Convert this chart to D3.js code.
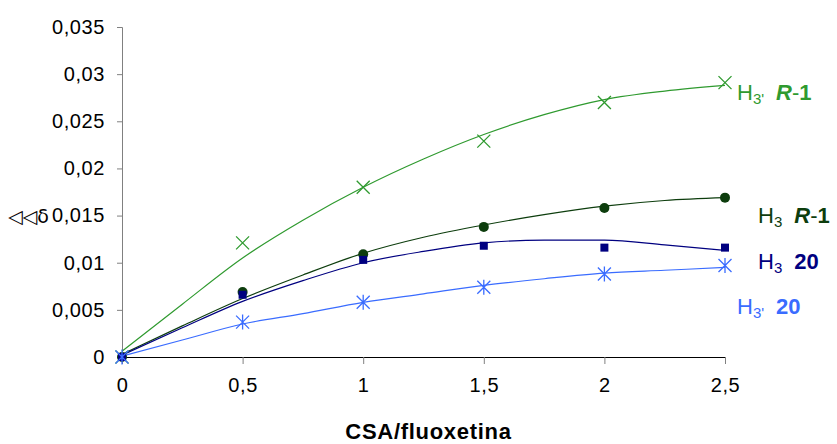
<!DOCTYPE html>
<html>
<head>
<meta charset="utf-8">
<script src="https://cdn.jsdelivr.net/npm/d3@7"></script>
<style>
  html, body { margin: 0; padding: 0; background: #fff; }
  svg { display: block; font-family: "Liberation Sans", Arial, sans-serif; }
</style>
</head>
<body>
<svg id="chart" width="837" height="444"></svg>
<script>
// Ratio CSA/fluoxetina on the x axis
const ratios = [0, 0.5, 1, 1.5, 2, 2.5];

// Measured shifts for each proton / compound
const h3pR1 = [0, 0.0121, 0.0180, 0.0229, 0.0270, 0.0291];
const h3R1  = [0, 0.0069, 0.0109, 0.0138, 0.0158, 0.0169];
const h3C20 = [0, 0.0066, 0.0103, 0.0118, 0.0116, 0.0116];
const h3pC20 = [0, 0.0037, 0.0058, 0.0074, 0.0088, 0.0097];

// Trend curves sampled along the x axis
const trendX = [0, 0.25, 0.5, 0.75, 1, 1.25, 1.5, 1.75, 2, 2.25, 2.5];
const trendH3pR1 = [0.0006, 0.0056, 0.0105, 0.0145, 0.0180, 0.0210, 0.0236, 0.0257, 0.0273, 0.0282, 0.0288];
const trendH3R1  = [0.0003, 0.0033, 0.0062, 0.0087, 0.0110, 0.0127, 0.0140, 0.0151, 0.0160, 0.0166, 0.0169];
const trendH3C20 = [0.0002, 0.0031, 0.0059, 0.0081, 0.0100, 0.0112, 0.0121, 0.0124, 0.0124, 0.0119, 0.0113];
const trendH3pC20 = [0.0001, 0.0018, 0.0035, 0.0046, 0.0058, 0.0067, 0.0076, 0.0083, 0.0089, 0.0092, 0.0095];

// Tick values and labels
const xTicks = [0, 0.5, 1, 1.5, 2, 2.5];
const xTickLabels = ["0", "0,5", "1", "1,5", "2", "2,5"];
const yTicks = [0, 0.005, 0.01, 0.015, 0.02, 0.025, 0.03, 0.035];
const yTickLabels = ["0", "0,005", "0,01", "0,015", "0,02", "0,025", "0,03", "0,035"];

const svg = d3.select("#chart");
const x = d3.scaleLinear().domain([0, 2.5]).range([122, 725]);
const y = d3.scaleLinear().domain([0, 0.035]).range([357, 27]);

// Axes
const yAxis = svg.append("g")
  .attr("transform", `translate(${x(0)},0)`)
  .call(d3.axisLeft(y).tickValues(yTicks).tickSize(5).tickPadding(12)
    .tickFormat((d, i) => yTickLabels[i]));
yAxis.select(".domain").attr("stroke", "#808080");
yAxis.selectAll(".tick line").attr("stroke", "#808080");
yAxis.selectAll("text").attr("font-size", 20).attr("fill", "#000")
  .attr("letter-spacing", 0.6)
  .attr("font-family", "Liberation Sans, Arial, sans-serif");

const xAxis = svg.append("g")
  .attr("transform", `translate(0,${y(0)})`)
  .call(d3.axisBottom(x).tickValues(xTicks).tickSize(7).tickSizeOuter(0).tickPadding(14)
    .tickFormat((d, i) => xTickLabels[i]));
xAxis.select(".domain").attr("stroke", "#000");
xAxis.selectAll(".tick line").attr("stroke", "#808080");
xAxis.selectAll("text").attr("font-size", 20).attr("fill", "#000")
  .attr("letter-spacing", 0.6)
  .attr("font-family", "Liberation Sans, Arial, sans-serif");

// Axis titles
svg.append("text")
  .attr("x", x(1.25) + 5).attr("y", 439)
  .attr("text-anchor", "middle")
  .attr("font-size", 22).attr("font-weight", "bold")
  .attr("letter-spacing", 0.7)
  .text("CSA/fluoxetina");

svg.append("text")
  .attr("x", 8).attr("y", 223)
  .attr("font-family", "DejaVu Sans, sans-serif")
  .attr("font-size", 19)
  .attr("fill", "#000")
  .text("◁◁δ");

// Series definitions
const series = [
  { values: h3pR1, trend: trendH3pR1, color: "#2f9a2f", marker: "x" },
  { values: h3R1, trend: trendH3R1, color: "#0d3d0d", marker: "circle" },
  { values: h3C20, trend: trendH3C20, color: "#000080", marker: "square" },
  { values: h3pC20, trend: trendH3pC20, color: "#3a6cff", marker: "star" }
];

const line = d3.line()
  .x((d, i) => x(trendX[i]))
  .y(d => y(d))
  .curve(d3.curveMonotoneX);

// Trend curves
series.forEach(s => {
  svg.append("path")
    .attr("d", line(s.trend))
    .attr("fill", "none")
    .attr("stroke", s.color)
    .attr("stroke-width", 1.2);
});

// Markers
function drawMarker(g, type, color) {
  if (type === "x") {
    const r = 6.5;
    g.append("path").attr("d", `M${-r},${-r}L${r},${r}M${-r},${r}L${r},${-r}`)
      .attr("stroke", color).attr("stroke-width", 1.3).attr("fill", "none");
  } else if (type === "circle") {
    g.append("circle").attr("r", 5).attr("fill", color);
  } else if (type === "square") {
    g.append("rect").attr("x", -4).attr("y", -4).attr("width", 8).attr("height", 8).attr("fill", color);
  } else if (type === "star") {
    const r = 6.5;
    g.append("path")
      .attr("d", `M${-r},${-r}L${r},${r}M${-r},${r}L${r},${-r}M0,${-r - 1}L0,${r + 1}`)
      .attr("stroke", color).attr("stroke-width", 1.3).attr("fill", "none");
  }
}

series.forEach(s => {
  s.values.forEach((v, i) => {
    const g = svg.append("g").attr("transform", `translate(${x(ratios[i])},${y(v)})`);
    drawMarker(g, s.marker, s.color);
  });
});

// Series labels at the right end
const labels = [
  { x: 737, y: 100, prime: true, tail: "R1", color: "#2f9a2f" },
  { x: 758, y: 223, prime: false, tail: "R1", color: "#0d3d0d" },
  { x: 758, y: 269, prime: false, tail: "20", color: "#000080" },
  { x: 737, y: 314, prime: true, tail: "20", color: "#3a6cff" }
];

labels.forEach(l => {
  const t = svg.append("text")
    .attr("x", l.x).attr("y", l.y)
    .attr("font-size", 22).attr("fill", l.color);
  t.append("tspan").text("H");
  t.append("tspan").attr("font-size", 15).attr("dy", 4).text(l.prime ? "3'" : "3");
  if (l.tail === "R1") {
    t.append("tspan").attr("dy", -4).attr("dx", 12).attr("font-style", "italic").attr("font-weight", "bold").text("R");
    t.append("tspan").text("-");
    t.append("tspan").attr("font-weight", "bold").text("1");
  } else {
    t.append("tspan").attr("dy", -4).attr("dx", 12).attr("font-weight", "bold").text("20");
  }
});
</script>
</body>
</html>
